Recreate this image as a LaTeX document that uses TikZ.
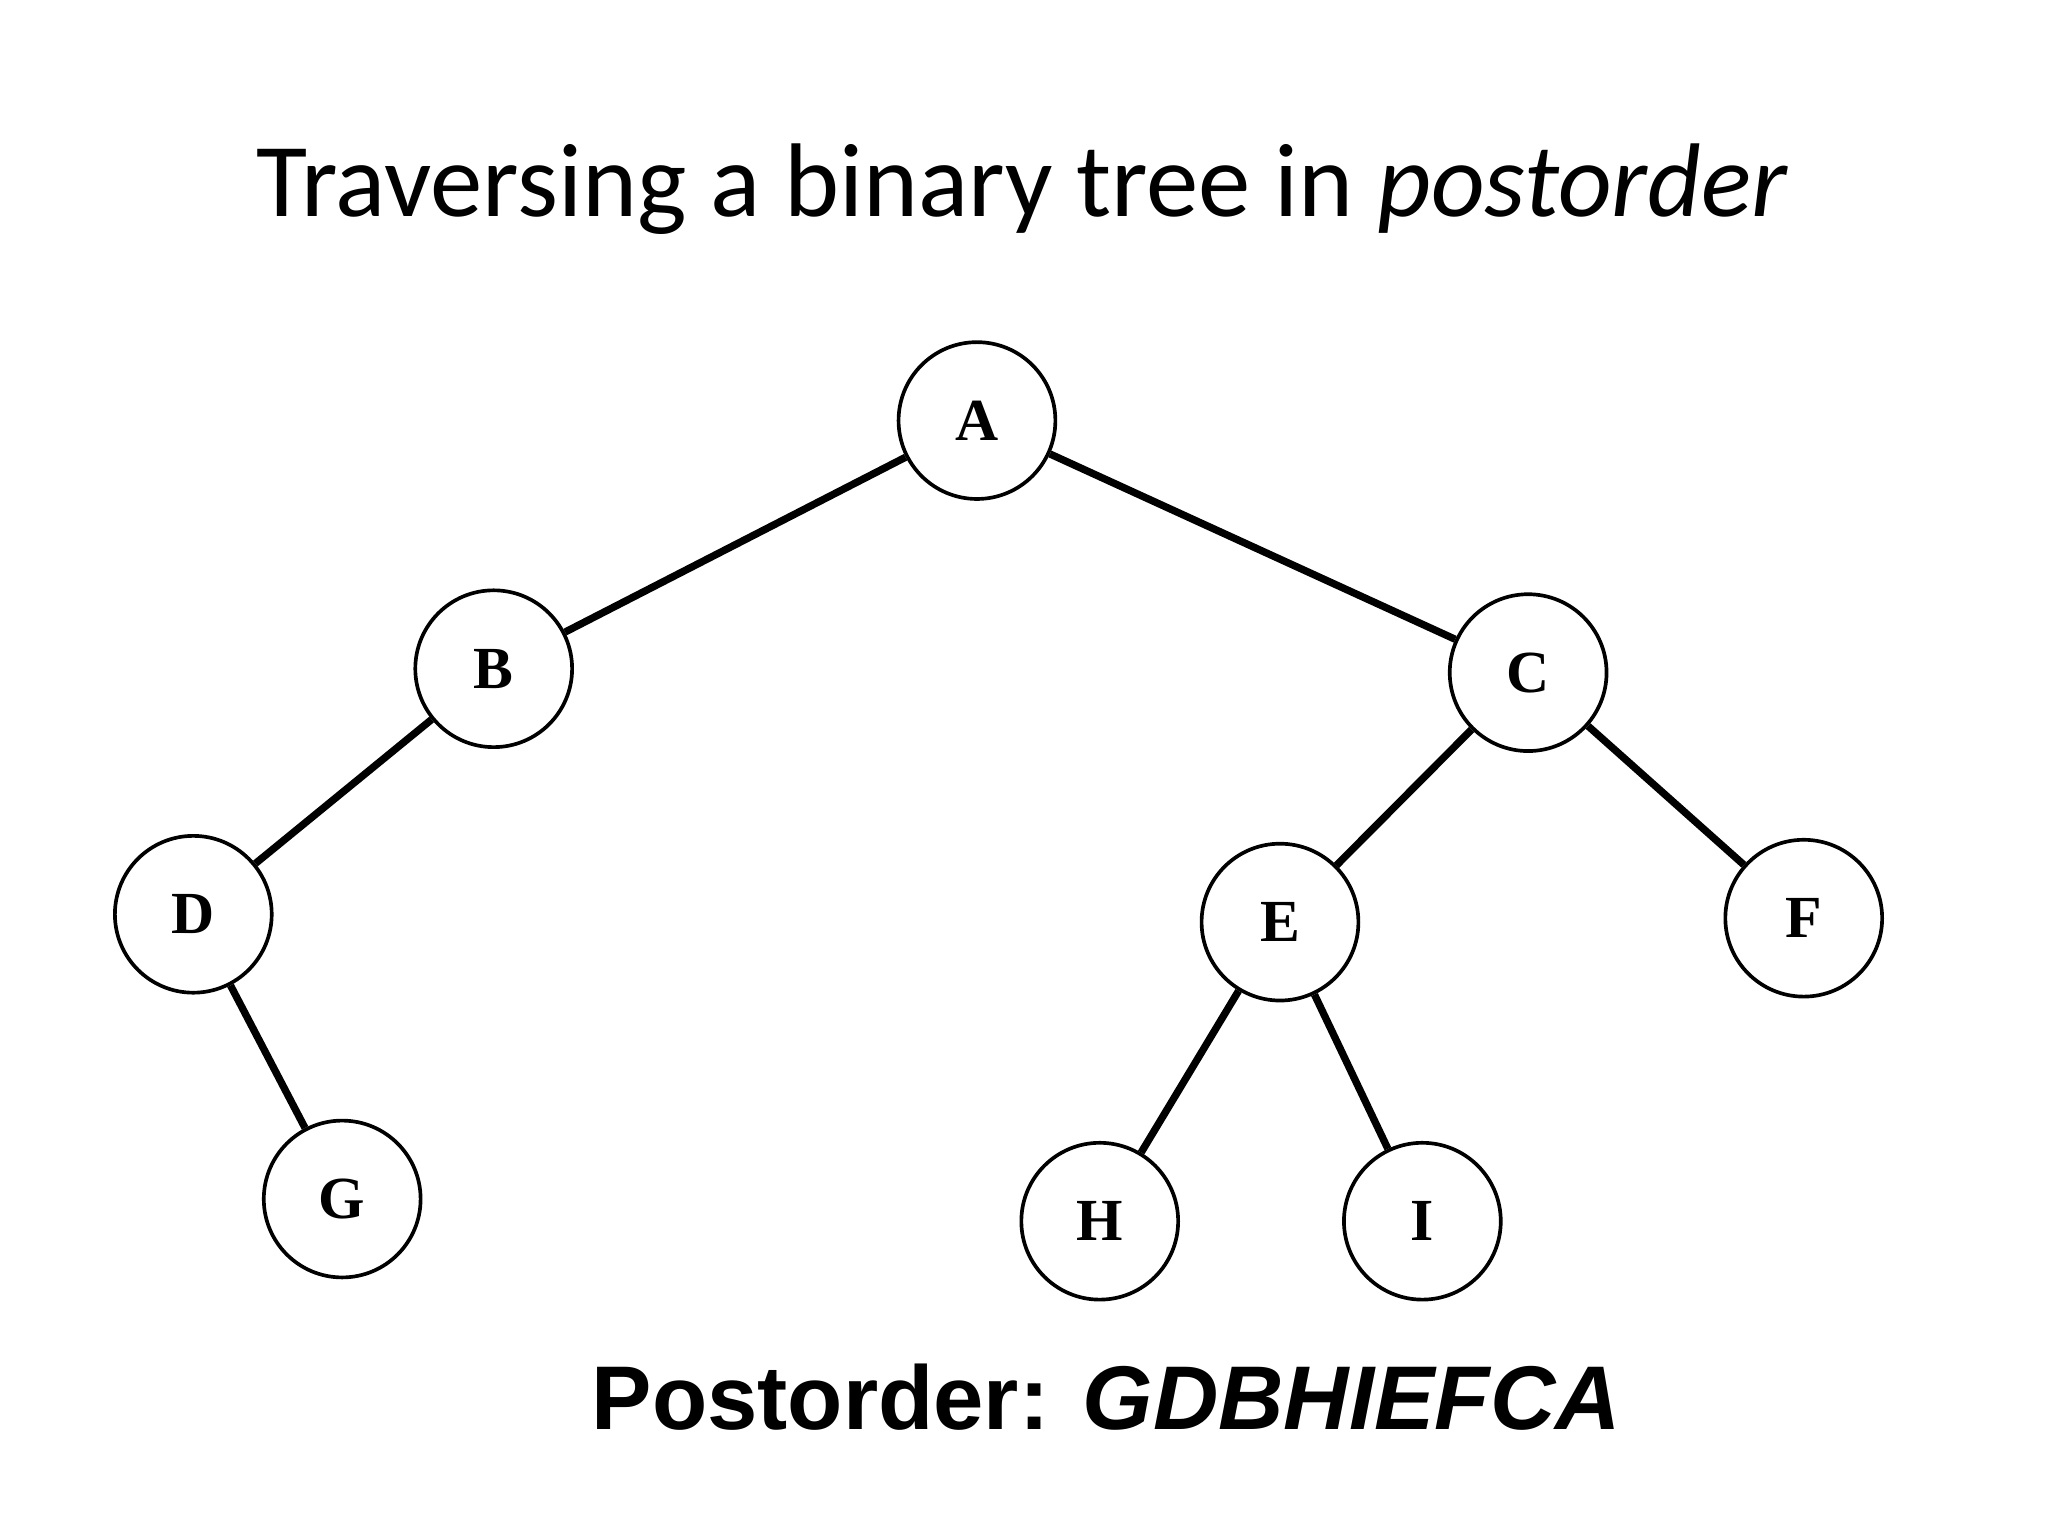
\documentclass[tikz,border=0pt]{standalone}
\usepackage{fontspec}
\setmainfont{Liberation Serif}
\newfontfamily\titlefont{Carlito}
\newfontfamily\arialfont{Liberation Sans}
\begin{document}
\begin{tikzpicture}[x=0.01cm,y=-0.01cm,
  tnode/.style={circle,draw,line width=0.8pt,minimum size=1.2cm,inner sep=0pt,font=\fontsize{13}{13}\selectfont\bfseries},
  edge/.style={line width=1.6pt}]
\useasboundingbox (0,0) rectangle (1568,1176);
\node[font=\titlefont\fontsize{22.8}{27}\selectfont] (title) at (783,145) {Traversing a binary tree in \textit{postorder}};
\node[tnode] (A) at (748,322) {A};
\node[tnode] (B) at (378,512) {B};
\node[tnode] (C) at (1170,515) {C};
\node[tnode] (D) at (148,700) {D};
\node[tnode] (E) at (980,706) {E};
\node[tnode] (F) at (1381,703) {F};
\node[tnode] (G) at (262,918) {G};
\node[tnode] (H) at (842,935) {H};
\node[tnode] (I) at (1089,935) {I};
\draw[edge] (A)--(B); \draw[edge] (A)--(C);
\draw[edge] (B)--(D); \draw[edge] (D)--(G);
\draw[edge] (C)--(E); \draw[edge] (C)--(F);
\draw[edge] (E)--(H); \draw[edge] (E)--(I);
\node[font=\arialfont\bfseries\fontsize{19.7}{24}\selectfont] (post) at (847,1070) {Postorder: \textit{GDBHIEFCA}};
\end{tikzpicture}
\end{document}
